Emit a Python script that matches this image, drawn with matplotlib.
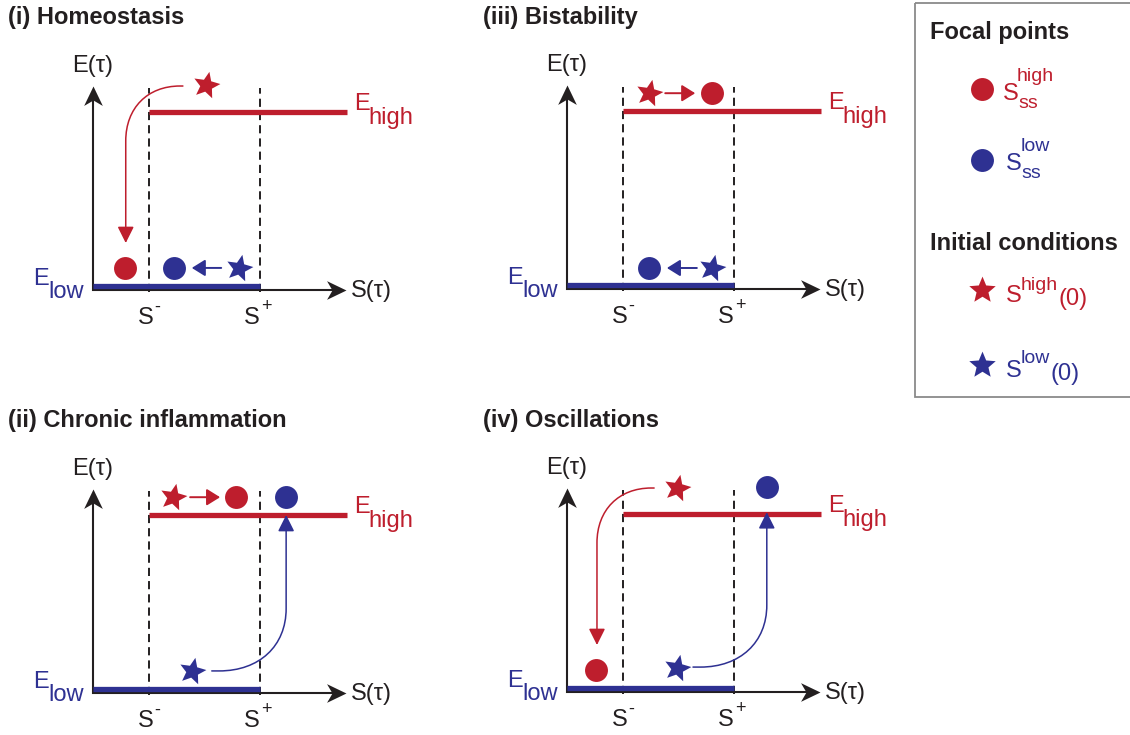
"""Schematic of the four E(tau)-S(tau) regimes with focal points and initial conditions."""

import matplotlib
matplotlib.use("Agg")
import matplotlib.pyplot as plt
from matplotlib.patches import FancyArrowPatch, Rectangle
from matplotlib.path import Path
from matplotlib.transforms import Affine2D

plt.rcParams["font.family"] = ["Liberation Sans", "DejaVu Sans"]

RED = "#be1e2d"
BLUE = "#2e3192"
INK = "#231f20"
COLORS = {"high": RED, "low": BLUE}

# thresholds and branches, in S / E units
S_MINUS, S_PLUS = 1.0, 3.0
E_LOW, E_HIGH = 0.022, 1.0
S_HIGH_END = 4.58
S_AXIS_END, E_AXIS_END = 4.55, 1.146
DASH_TOP = 1.135

titles = ["(i) Homeostasis", "(ii) Chronic inflammation", "(iii) Bistability", "(iv) Oscillations"]

# focal points (S, E, branch)
homeo_focal = [(0.58, 0.124, "high"), (1.46, 0.124, "low")]
chronic_focal = [(2.58, 1.10, "high"), (3.48, 1.10, "low")]
bistab_focal = [(2.61, 1.10, "high"), (1.48, 0.118, "low")]
oscil_focal = [(0.52, 0.124, "high"), (3.60, 1.15, "low")]

# initial conditions (S, E, branch)
homeo_start = [(2.04, 1.15, "high"), (2.63, 0.124, "low")]
chronic_start = [(1.44, 1.10, "high"), (1.78, 0.124, "low")]
bistab_start = [(1.48, 1.10, "high"), (2.61, 0.118, "low")]
oscil_start = [(1.98, 1.146, "high"), (1.98, 0.135, "low")]

# straight moves (from, to, branch)
homeo_moves = [((2.31, 0.124), (1.78, 0.124), "low")]
chronic_moves = [((1.75, 1.10), (2.29, 1.10), "high")]
bistab_moves = [((1.77, 1.10), (2.31, 1.10), "high"), ((2.34, 0.118), (1.80, 0.118), "low")]
oscil_moves = []

# switching trajectories (start, tip, branch)
homeo_jumps = [((1.62, 1.146), (0.59, 0.264), "high")]
chronic_jumps = [((2.14, 0.124), (3.48, 1.0), "low")]
bistab_jumps = []
oscil_jumps = [((1.57, 1.146), (0.54, 0.264), "high"), ((2.27, 0.14), (3.60, 1.01), "low")]

panels = [
    (homeo_focal, homeo_start, homeo_moves, homeo_jumps),
    (chronic_focal, chronic_start, chronic_moves, chronic_jumps),
    (bistab_focal, bistab_start, bistab_moves, bistab_jumps),
    (oscil_focal, oscil_start, oscil_moves, oscil_jumps),
]

W, H = 1130, 735
PX_S, PX_E = 55.5, 178.0
origins = [(93, 290), (93, 693), (567, 289), (567, 692)]
title_pos = [(8, 24), (8, 427), (483, 24), (483, 427)]
XLIM, YLIM = (-1.5, 6.0), (-0.35, 1.45)
FS = 17
SUP = 14


def star_marker(rot):
    p = Path.unit_regular_star(5, 0.45)
    return p.transformed(Affine2D().rotate_deg(rot))


def head_marker(rot):
    # concave-backed arrow head, tip at the marker origin
    p = Path([(0, 0), (-1, 0.48), (-0.72, 0), (-1, -0.48), (0, 0)],
             [Path.MOVETO, Path.LINETO, Path.LINETO, Path.LINETO, Path.CLOSEPOLY])
    return p.transformed(Affine2D().rotate_deg(rot))


STAR = star_marker(-12)
STAR_UP = star_marker(0)
HEAD_X, HEAD_Y = head_marker(0), head_marker(90)


def bend_path(start, tip, a, b, c=0.6):
    x0, y0 = start
    x1, y1 = tip
    ax_, bx = x0 + a * (x1 - x0), y0 + b * (y1 - y0)
    verts = [start, (ax_, y0), (ax_ + c * (x1 - ax_), y0), (x1, bx + c * (y0 - bx)), (x1, bx), tip]
    codes = [Path.MOVETO, Path.LINETO, Path.CURVE4, Path.CURVE4, Path.CURVE4, Path.LINETO]
    return Path(verts, codes)


fig = plt.figure(figsize=(W / 100, H / 100), dpi=100)
over = fig.add_axes([0, 0, 1, 1])
over.set_xlim(0, W)
over.set_ylim(H, 0)
over.axis("off")

for (ox, oy), (tx, ty), title, (focal, start, moves, jumps) in zip(origins, title_pos, titles, panels):
    left = (ox + XLIM[0] * PX_S) / W
    bottom = 1 - (oy - YLIM[0] * PX_E) / H
    ax = fig.add_axes([left, bottom, (XLIM[1] - XLIM[0]) * PX_S / W, (YLIM[1] - YLIM[0]) * PX_E / H])
    ax.set_xlim(*XLIM)
    ax.set_ylim(*YLIM)
    ax.axis("off")

    over.text(tx, ty, title, fontsize=FS, fontweight="bold", color=INK, va="baseline")

    # axes with arrow heads
    ax.plot([0, 0, S_AXIS_END - 0.15], [E_AXIS_END - 0.05, 0, 0], color=INK, lw=1.5,
            solid_joinstyle="miter", zorder=1)
    ax.plot(S_AXIS_END, 0, marker=HEAD_X, ms=28, color=INK, mec="none", zorder=1)
    ax.plot(0, E_AXIS_END, marker=HEAD_Y, ms=28, color=INK, mec="none", zorder=1)

    for s in (S_MINUS, S_PLUS):
        ax.plot([s, s], [-0.012, DASH_TOP], color=INK, lw=1.4, ls=(0, (4.2, 2.6)), zorder=1)
    ax.plot([S_MINUS, S_HIGH_END], [E_HIGH, E_HIGH], color=RED, lw=3.8, solid_capstyle="butt", zorder=2)
    ax.plot([0, S_PLUS], [E_LOW, E_LOW], color=BLUE, lw=3.8, solid_capstyle="butt", zorder=2)

    # labels
    ax.text(0, 1.225, "E(τ)", fontsize=FS, color=INK, ha="center", va="baseline")
    ax.text(4.65, -0.04, "S(τ)", fontsize=FS, color=INK, va="baseline")
    ax.text(4.70, 1.011, "E", fontsize=FS, color=RED, va="baseline")
    ax.text(4.97, 0.933, "high", fontsize=FS, color=RED, va="baseline")
    ax.text(-1.08, 0.028, "E", fontsize=FS, color=BLUE, va="baseline")
    ax.text(-0.81, -0.045, "low", fontsize=FS, color=BLUE, va="baseline")
    ax.text(0.95, -0.19, "S", fontsize=FS, color=INK, ha="center", va="baseline")
    ax.text(1.10, -0.10, "-", fontsize=13, color=INK, va="center")
    ax.text(2.86, -0.19, "S", fontsize=FS, color=INK, ha="center", va="baseline")
    ax.text(3.13, -0.095, "+", fontsize=13, color=INK, ha="center", va="center")

    for (p0, p1, br) in moves:
        ax.add_patch(FancyArrowPatch(p0, p1, arrowstyle="-|>,head_length=0.45,head_width=0.28",
                                     mutation_scale=18, lw=1.4, color=COLORS[br],
                                     shrinkA=0, shrinkB=0, zorder=4))
    for (p0, p1, br) in jumps:
        a, b = (0.05, 0.35) if br == "high" else (0.1, 0.4)
        ax.add_patch(FancyArrowPatch(path=bend_path(p0, p1, a, b), arrowstyle="-|>,head_length=0.5,head_width=0.25",
                                     mutation_scale=20, lw=1.1, color=COLORS[br], zorder=4))
    for (s, e, br) in focal:
        ax.plot(s, e, "o", ms=16.5, color=COLORS[br], mec="none", zorder=5)
    for (s, e, br) in start:
        ax.plot(s, e, marker=STAR, ms=20, color=COLORS[br], mec="none", zorder=5)

# legend box
over.add_patch(Rectangle((915, 3), 300, 394, fill=False, ec="#8a8a8a", lw=1.3, clip_on=False))
over.text(930, 39, "Focal points", fontsize=FS, fontweight="bold", color=INK, va="baseline")
over.text(930, 250, "Initial conditions", fontsize=FS, fontweight="bold", color=INK, va="baseline")

over.plot(982, 89, "o", ms=16.5, color=RED, mec="none")
over.text(1003, 100, "S", fontsize=FS, color=RED, va="baseline")
over.text(1017, 81, "high", fontsize=SUP, color=RED, va="baseline")
over.text(1018, 108, "ss", fontsize=SUP, color=RED, va="baseline")

over.plot(982, 160, "o", ms=16.5, color=BLUE, mec="none")
over.text(1006, 170, "S", fontsize=FS, color=BLUE, va="baseline")
over.text(1021, 151, "low", fontsize=SUP, color=BLUE, va="baseline")
over.text(1021, 178, "ss", fontsize=SUP, color=BLUE, va="baseline")

over.plot(982, 290, marker=STAR_UP, ms=20, color=RED, mec="none")
over.text(1006, 302, "S", fontsize=FS, color=RED, va="baseline")
over.text(1021, 290, "high", fontsize=SUP, color=RED, va="baseline")
over.text(1058, 305, "(0)", fontsize=FS, color=RED, va="baseline")

over.plot(982, 365, marker=STAR_UP, ms=20, color=BLUE, mec="none")
over.text(1006, 377, "S", fontsize=FS, color=BLUE, va="baseline")
over.text(1021, 363, "low", fontsize=SUP, color=BLUE, va="baseline")
over.text(1050, 380, "(0)", fontsize=FS, color=BLUE, va="baseline")

fig.savefig("out.png", dpi=100)
